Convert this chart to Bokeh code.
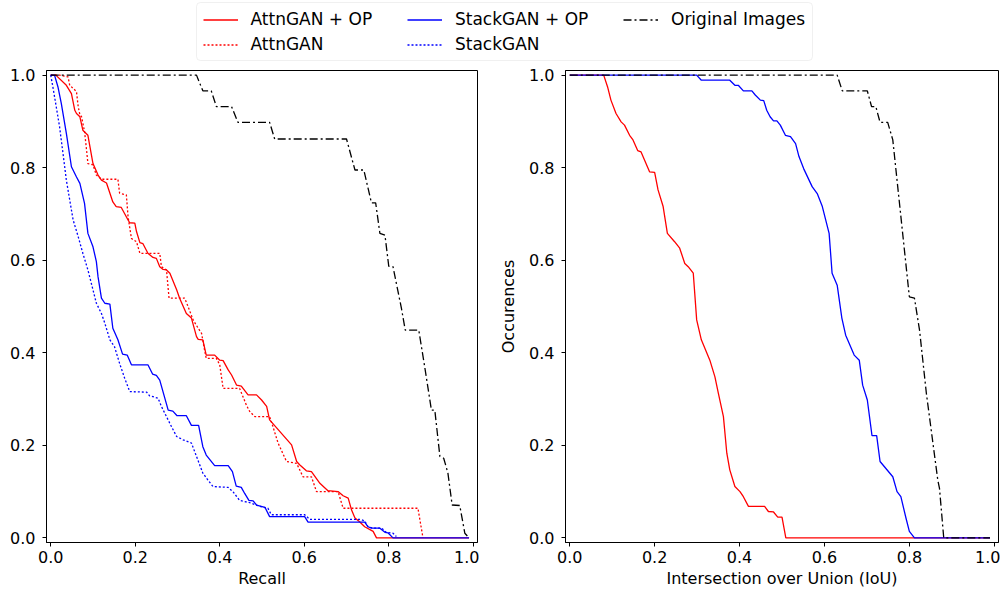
from bokeh.plotting import figure
from bokeh.models import Range1d, FixedTicker, NumeralTickFormatter, Legend, LegendItem, BoxAnnotation
from bokeh.layouts import column, row
from bokeh.embed import file_html
from bokeh.resources import INLINE

# ---------------- data ----------------
tick_values = [0.0, 0.2, 0.4, 0.6, 0.8, 1.0]

# Left panel: Recall
attn_op_recall_x = [0.0, 0.012, 0.037, 0.049, 0.057, 0.061, 0.069, 0.076, 0.088, 0.100,
                    0.112, 0.120, 0.132, 0.147, 0.155, 0.167, 0.183, 0.187, 0.199, 0.203,
                    0.211, 0.218, 0.230, 0.242, 0.250, 0.258, 0.266, 0.274, 0.282, 0.298,
                    0.305, 0.321, 0.333, 0.345, 0.349, 0.360, 0.368, 0.388, 0.400, 0.408,
                    0.420, 0.428, 0.440, 0.451, 0.467, 0.487, 0.499, 0.511, 0.518, 0.570,
                    0.582, 0.589, 0.605, 0.617, 0.637, 0.656, 0.680, 0.692, 0.704, 0.712,
                    0.720, 0.731, 0.743, 0.763, 0.771, 0.99]
attn_op_recall_y = [1.0, 1.0, 0.978, 0.960, 0.924, 0.917, 0.910, 0.881, 0.870, 0.809,
                    0.784, 0.773, 0.767, 0.726, 0.716, 0.714, 0.687, 0.681, 0.680, 0.662,
                    0.638, 0.636, 0.615, 0.606, 0.604, 0.586, 0.580, 0.579, 0.572, 0.536,
                    0.518, 0.485, 0.475, 0.435, 0.429, 0.428, 0.395, 0.395, 0.384, 0.383,
                    0.363, 0.352, 0.330, 0.328, 0.309, 0.309, 0.298, 0.284, 0.255, 0.201,
                    0.165, 0.158, 0.145, 0.143, 0.118, 0.102, 0.100, 0.091, 0.086, 0.060,
                    0.043, 0.035, 0.024, 0.014, 0.0, 0.0]

attn_recall_x = [0.0, 0.021, 0.041, 0.045, 0.057, 0.061, 0.065, 0.069, 0.073, 0.080,
                 0.084, 0.088, 0.100, 0.108, 0.120, 0.159, 0.163, 0.179, 0.183, 0.191,
                 0.203, 0.211, 0.258, 0.262, 0.274, 0.280, 0.317, 0.325, 0.337, 0.349,
                 0.357, 0.364, 0.368, 0.392, 0.400, 0.408, 0.447, 0.455, 0.463, 0.471,
                 0.483, 0.518, 0.526, 0.538, 0.558, 0.582, 0.597, 0.617, 0.629, 0.680,
                 0.692, 0.869, 0.881]
attn_recall_y = [1.0, 1.0, 0.996, 0.978, 0.968, 0.964, 0.932, 0.914, 0.910, 0.878,
                 0.845, 0.809, 0.806, 0.784, 0.775, 0.775, 0.745, 0.741, 0.694, 0.647,
                 0.640, 0.615, 0.615, 0.586, 0.579, 0.518, 0.518, 0.500, 0.471, 0.453,
                 0.442, 0.406, 0.388, 0.388, 0.374, 0.323, 0.323, 0.305, 0.287, 0.273,
                 0.262, 0.262, 0.240, 0.205, 0.165, 0.161, 0.132, 0.132, 0.100, 0.100,
                 0.064, 0.064, 0.0]

stack_op_recall_x = [0.0, 0.009, 0.017, 0.025, 0.037, 0.049, 0.061, 0.069, 0.080, 0.088,
                     0.100, 0.108, 0.112, 0.120, 0.128, 0.140, 0.147, 0.159, 0.170, 0.181,
                     0.191, 0.230, 0.241, 0.250, 0.258, 0.278, 0.289, 0.299, 0.321, 0.333,
                     0.350, 0.360, 0.368, 0.388, 0.420, 0.430, 0.439, 0.451, 0.459, 0.469,
                     0.479, 0.487, 0.507, 0.518, 0.601, 0.609, 0.743, 0.751, 0.759, 0.779,
                     0.791, 0.798, 0.810, 0.99]
stack_op_recall_y = [1.0, 1.0, 0.975, 0.939, 0.874, 0.802, 0.780, 0.766, 0.723, 0.658,
                     0.629, 0.597, 0.564, 0.518, 0.507, 0.505, 0.453, 0.428, 0.397, 0.395,
                     0.374, 0.374, 0.354, 0.351, 0.341, 0.276, 0.274, 0.264, 0.264, 0.243,
                     0.243, 0.197, 0.179, 0.156, 0.156, 0.143, 0.112, 0.109, 0.096, 0.081,
                     0.080, 0.071, 0.066, 0.046, 0.046, 0.034, 0.034, 0.024, 0.021, 0.021,
                     0.012, 0.011, 0.0, 0.0]

stack_recall_x = [0.0, 0.005, 0.013, 0.021, 0.029, 0.037, 0.045, 0.053, 0.065, 0.076,
                  0.088, 0.100, 0.108, 0.120, 0.128, 0.140, 0.151, 0.163, 0.175, 0.187,
                  0.227, 0.234, 0.254, 0.262, 0.274, 0.286, 0.298, 0.313, 0.333, 0.345,
                  0.360, 0.372, 0.384, 0.420, 0.432, 0.447, 0.471, 0.495, 0.514, 0.522,
                  0.601, 0.613, 0.731, 0.743, 0.751, 0.763, 0.783, 0.794, 0.810, 0.818]
stack_recall_y = [1.0, 0.975, 0.932, 0.888, 0.831, 0.773, 0.730, 0.687, 0.651, 0.615,
                  0.579, 0.536, 0.507, 0.485, 0.464, 0.428, 0.413, 0.377, 0.345, 0.316,
                  0.315, 0.307, 0.302, 0.284, 0.262, 0.240, 0.219, 0.212, 0.205, 0.176,
                  0.140, 0.125, 0.111, 0.109, 0.099, 0.081, 0.076, 0.068, 0.064, 0.050,
                  0.050, 0.040, 0.040, 0.037, 0.024, 0.021, 0.021, 0.012, 0.010, 0.003]

orig_recall_x = [0.0, 0.345, 0.360, 0.380, 0.392, 0.428, 0.443, 0.518, 0.530, 0.700,
                 0.720, 0.741, 0.759, 0.769, 0.779, 0.791, 0.800, 0.810, 0.830, 0.839,
                 0.871, 0.885, 0.901, 0.909, 0.921, 0.930, 0.940, 0.950, 0.968, 0.980, 0.99]
orig_recall_y = [1.0, 1.0, 0.966, 0.966, 0.932, 0.932, 0.898, 0.898, 0.862, 0.862,
                 0.795, 0.795, 0.724, 0.724, 0.658, 0.654, 0.587, 0.586, 0.496, 0.449,
                 0.449, 0.370, 0.276, 0.276, 0.176, 0.172, 0.140, 0.071, 0.070, 0.010, 0.0]

# Right panel: IoU
attn_op_iou_x = [0.0, 0.080, 0.089, 0.097, 0.109, 0.121, 0.129, 0.141, 0.149, 0.160,
                 0.168, 0.188, 0.200, 0.208, 0.220, 0.230, 0.247, 0.259, 0.271, 0.279,
                 0.291, 0.299, 0.310, 0.330, 0.342, 0.350, 0.362, 0.370, 0.377, 0.389,
                 0.401, 0.409, 0.421, 0.459, 0.468, 0.480, 0.490, 0.500, 0.509, 0.99]
attn_op_iou_y = [1.0, 1.0, 0.975, 0.946, 0.917, 0.899, 0.892, 0.870, 0.860, 0.837,
                 0.834, 0.791, 0.790, 0.752, 0.716, 0.658, 0.640, 0.626, 0.593, 0.586,
                 0.572, 0.471, 0.428, 0.384, 0.348, 0.313, 0.262, 0.183, 0.147, 0.111,
                 0.100, 0.089, 0.068, 0.068, 0.057, 0.056, 0.045, 0.045, 0.0, 0.0]

stack_op_iou_x = [0.0, 0.299, 0.310, 0.377, 0.389, 0.397, 0.409, 0.429, 0.437, 0.449,
                  0.457, 0.464, 0.472, 0.480, 0.488, 0.496, 0.508, 0.520, 0.532, 0.540,
                  0.551, 0.571, 0.583, 0.595, 0.611, 0.618, 0.630, 0.641, 0.650, 0.670,
                  0.682, 0.690, 0.701, 0.712, 0.723, 0.731, 0.761, 0.771, 0.780, 0.792,
                  0.800, 0.812, 0.99]
stack_op_iou_y = [1.0, 1.0, 0.989, 0.989, 0.978, 0.978, 0.966, 0.966, 0.957, 0.946,
                  0.945, 0.924, 0.910, 0.901, 0.901, 0.892, 0.870, 0.867, 0.852, 0.824,
                  0.798, 0.759, 0.744, 0.716, 0.658, 0.572, 0.546, 0.475, 0.438, 0.395,
                  0.384, 0.330, 0.298, 0.221, 0.221, 0.165, 0.132, 0.100, 0.089, 0.043,
                  0.014, 0.0, 0.0]

orig_iou_x = [0.0, 0.630, 0.642, 0.701, 0.711, 0.721, 0.731, 0.749, 0.761, 0.800,
              0.812, 0.824, 0.840, 0.867, 0.871, 0.881, 0.99]
orig_iou_y = [1.0, 1.0, 0.966, 0.966, 0.932, 0.932, 0.898, 0.898, 0.860, 0.521,
              0.518, 0.449, 0.313, 0.125, 0.107, 0.0, 0.0]

labels = ["AttnGAN + OP", "AttnGAN", "StackGAN + OP", "StackGAN", "Original Images"]

# ---------------- styles ----------------
FONT = "DejaVu Sans"
LW = 1.3
DOT = "2 2"
DASHDOT = "8 3 2 3"
styles = {
    "AttnGAN + OP": dict(line_color="red", line_dash="solid"),
    "AttnGAN": dict(line_color="red", line_dash=DOT),
    "StackGAN + OP": dict(line_color="blue", line_dash="solid"),
    "StackGAN": dict(line_color="blue", line_dash=DOT),
    "Original Images": dict(line_color="black", line_dash=DASHDOT),
}


def make_panel(width, border_left, xlabel, ylabel):
    p = figure(width=width, height=530, x_range=Range1d(-0.01, 1.01), y_range=Range1d(-0.01, 1.01),
               toolbar_location=None, output_backend="svg",
               min_border_left=border_left, min_border_right=2, min_border_top=8, min_border_bottom=50,
               background_fill_color="white", border_fill_color="white")
    p.grid.visible = False
    p.outline_line_color = "black"
    p.outline_line_width = 1
    p.outline_line_alpha = 1
    p.xaxis.ticker = FixedTicker(ticks=tick_values)
    p.yaxis.ticker = FixedTicker(ticks=tick_values)
    p.xaxis.formatter = NumeralTickFormatter(format="0.0")
    p.yaxis.formatter = NumeralTickFormatter(format="0.0")
    for ax in (p.xaxis[0], p.yaxis[0]):
        ax.major_tick_out = 4
        ax.major_tick_in = 0
        ax.minor_tick_out = 0
        ax.minor_tick_in = 0
        ax.axis_line_color = "black"
        ax.major_tick_line_color = "black"
        ax.major_label_text_font = FONT
        ax.major_label_text_font_size = "16px"
        ax.major_label_text_color = "black"
        ax.axis_label_text_font = FONT
        ax.axis_label_text_font_size = "16px"
        ax.axis_label_text_font_style = "normal"
        ax.axis_label_text_color = "black"
    p.xaxis.major_label_standoff = 4
    p.xaxis.axis_label_standoff = 3
    p.yaxis.major_label_standoff = 7
    p.yaxis.axis_label_standoff = 8
    p.xaxis.axis_label = xlabel
    if ylabel:
        p.yaxis.axis_label = ylabel
    return p


left = make_panel(479, 46, "Recall", None)
right = make_panel(521, 86, "Intersection over Union (IoU)", "Occurences")

left_series = [
    ("AttnGAN + OP", attn_op_recall_x, attn_op_recall_y),
    ("AttnGAN", attn_recall_x, attn_recall_y),
    ("StackGAN + OP", stack_op_recall_x, stack_op_recall_y),
    ("StackGAN", stack_recall_x, stack_recall_y),
    ("Original Images", orig_recall_x, orig_recall_y),
]
for name, xs, ys in left_series:
    left.line(xs, ys, line_width=LW, **styles[name])

right_series = [
    ("AttnGAN + OP", attn_op_iou_x, attn_op_iou_y),
    ("StackGAN + OP", stack_op_iou_x, stack_op_iou_y),
    ("Original Images", orig_iou_x, orig_iou_y),
]
for name, xs, ys in right_series:
    right.line(xs, ys, line_width=LW, **styles[name])

# ---------------- legend strip ----------------
lg = figure(width=1000, height=62, x_range=Range1d(0, 1000), y_range=Range1d(0, 62),
            toolbar_location=None, output_backend="svg", min_border=0,
            x_axis_location=None, y_axis_location=None, outline_line_color=None,
            background_fill_color="white", border_fill_color="white")
lg.grid.visible = False
lg.add_layout(BoxAnnotation(left=196, right=812, bottom=2, top=60, fill_color="white", fill_alpha=1.0,
                            line_color="#cccccc", line_width=1, border_radius=4))

nan = float("nan")
dummy = {name: lg.line(x=[nan, nan], y=[nan, nan], line_width=LW, **styles[name]) for name in labels}

columns = [(["AttnGAN + OP", "AttnGAN"], 202.5), (["StackGAN + OP", "StackGAN"], 407), (["Original Images"], 623)]
for names, xloc in columns:
    leg = Legend(items=[LegendItem(label=n, renderers=[dummy[n]]) for n in names],
                 location=(xloc, 7.5 if len(names) == 2 else 32.5), orientation="vertical",
                 border_line_color=None, background_fill_alpha=0, padding=0, margin=0, spacing=4,
                 label_height=21, glyph_height=21, glyph_width=35, label_standoff=13,
                 label_text_font=FONT, label_text_font_size="17px", label_text_color="black")
    lg.add_layout(leg)

layout = column(lg, row(left, right))
open("out.html", "w").write(file_html(layout, INLINE))
